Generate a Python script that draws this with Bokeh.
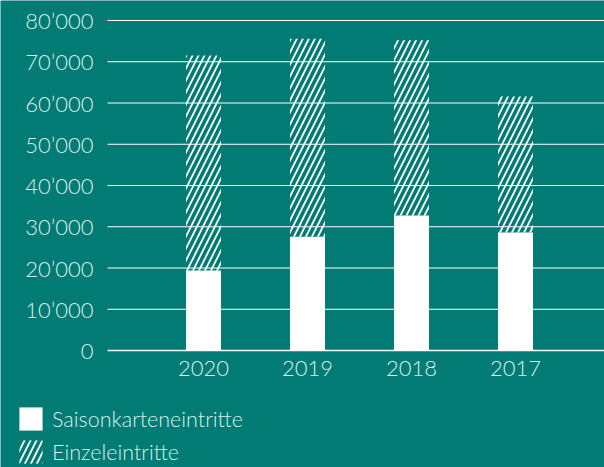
from bokeh.plotting import figure
from bokeh.models import Range1d, FixedTicker, Legend, LegendItem, ColumnDataSource, LinearAxis
from bokeh.embed import file_html
from bokeh.resources import INLINE

years = ["2020", "2019", "2018", "2017"]
saison = [19400, 27600, 32700, 28600]
einzel = [52100, 48000, 42500, 33000]
y_ticks = [0, 10000, 20000, 30000, 40000, 50000, 60000, 70000, 80000]
y_labels = ["0", "10’000", "20’000", "30’000", "40’000", "50’000", "60’000", "70’000", "80’000"]
series_names = ["Saisonkarteneintritte", "Einzeleintritte"]

BG = "#017b74"
TXT = "#dcefec"
FONT = "Lato Light"
HATCH = dict(hatch_pattern="/", hatch_color="white", hatch_scale=12, hatch_weight=1.8)

W, H = 604, 467
# layout: plot area from px x=107..604, y=20 (80000) .. 350 (0)
UNIT_PX = 104.0          # px between category centres
FIRST_PX = 203.0         # px of first category centre
AXIS_PX = 107.0
Y_PER_PX = 80000 / 330.0
X_LO = -FIRST_PX / UNIT_PX
X_HI = (W - FIRST_PX) / UNIT_PX
AX_X = (AXIS_PX - FIRST_PX) / UNIT_PX
Y_HI = 80000 + 20 * Y_PER_PX
Y_LO = -(H - 350) * Y_PER_PX

xs = list(range(len(years)))
src = ColumnDataSource(dict(x=xs, saison=saison, einzel=einzel,
                            top1=[s + e for s, e in zip(saison, einzel)]))

p = figure(width=W, height=H, output_backend="svg", toolbar_location=None,
           x_range=Range1d(X_LO, X_HI), y_range=Range1d(Y_LO, Y_HI),
           x_axis_location=None, y_axis_location=None,
           min_border_left=0, min_border_right=0, min_border_top=0, min_border_bottom=0)
p.background_fill_color = BG
p.border_fill_color = BG
p.outline_line_color = None
p.grid.visible = False

# horizontal grid lines from the tick values
grid_src = ColumnDataSource(dict(y=y_ticks[1:]))
p.segment(x0=AX_X, x1=X_HI, y0="y", y1="y", source=grid_src, line_color="white", line_width=1)

r1 = p.vbar(x="x", bottom=0, top="saison", width=0.337, source=src,
            fill_color="white", line_color=None)
r2 = p.vbar(x="x", bottom="saison", top="top1", width=0.337, source=src,
            fill_color=None, line_color=None, **HATCH)

yaxis = LinearAxis(fixed_location=AX_X, bounds=(0, 80000))
yaxis.ticker = FixedTicker(ticks=y_ticks)
yaxis.major_label_overrides = {t: l for t, l in zip(y_ticks, y_labels)}
yaxis.axis_line_color = None
yaxis.major_tick_line_color = None
yaxis.minor_tick_line_color = None
yaxis.major_label_standoff = 8
yaxis.major_label_text_font = FONT
yaxis.major_label_text_font_size = "22px"
yaxis.major_label_text_color = TXT
p.add_layout(yaxis, "left")

xaxis = LinearAxis(fixed_location=0, bounds=(AX_X, X_HI))
xaxis.ticker = FixedTicker(ticks=xs)
xaxis.major_label_overrides = {i: y for i, y in enumerate(years)}
xaxis.axis_line_color = "white"
xaxis.axis_line_width = 1.5
xaxis.major_tick_line_color = None
xaxis.minor_tick_line_color = None
xaxis.major_label_standoff = 4
xaxis.major_label_text_font = FONT
xaxis.major_label_text_font_size = "22px"
xaxis.major_label_text_color = TXT
p.add_layout(xaxis, "below")

legend = Legend(items=[LegendItem(label=series_names[0], renderers=[r1]),
                       LegendItem(label=series_names[1], renderers=[r2])],
                location=(16, 1))
legend.background_fill_alpha = 0
legend.border_line_color = None
legend.padding = 0
legend.margin = 0
legend.spacing = 4
legend.glyph_width = 29
legend.glyph_height = 29
legend.label_height = 29
legend.label_standoff = 7
legend.label_text_font = FONT
legend.label_text_font_size = "21.5px"
legend.label_text_color = TXT
p.add_layout(legend, "center")

html = file_html(p, INLINE)
html = html.replace("<body>", '<body style="margin:0;background-color:%s;">' % BG, 1)
open("out.html", "w").write(html)
